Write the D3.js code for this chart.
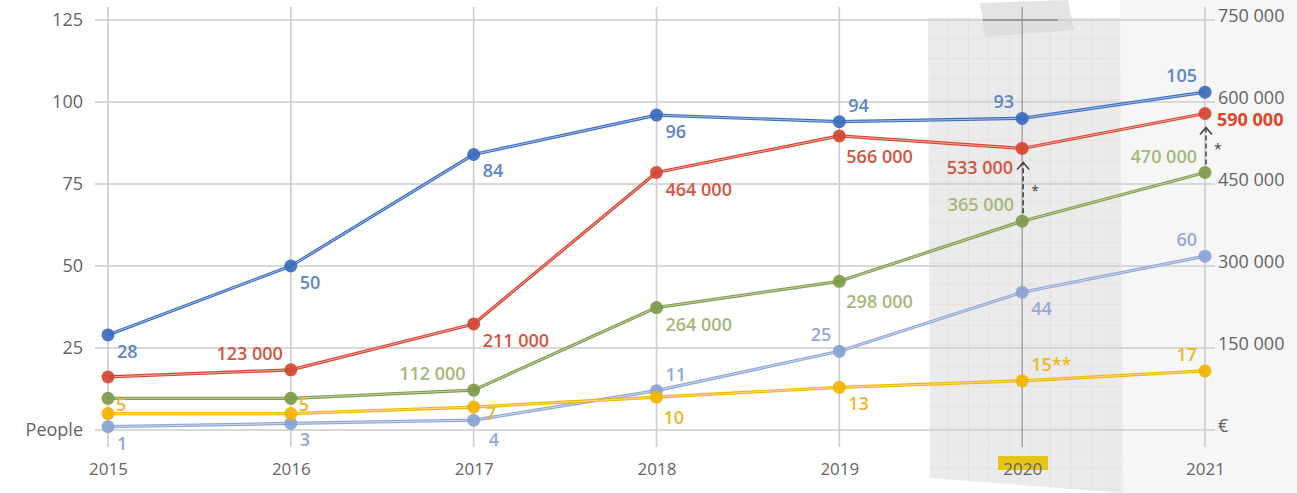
<!DOCTYPE html>
<html>
<head>
<meta charset="utf-8">
<script src="https://cdn.jsdelivr.net/npm/d3@7"></script>
<style>
  html, body { margin: 0; padding: 0; background: #fff; }
  svg { display: block; font-family: "Open Sans", "Noto Sans", sans-serif; }
</style>
</head>
<body>
<svg id="chart" width="1297" height="493"></svg>
<script>
const years = [2015, 2016, 2017, 2018, 2019, 2020, 2021];
const leftTicks = [0, 25, 50, 75, 100, 125];
const rightTicks = [0, 150000, 300000, 450000, 600000, 750000];

// people (left axis)
const peopleDark = [29, 50, 84, 96, 94, 95, 103];
const peopleDarkLabels = ["28", "50", "84", "96", "94", "93", "105"];
const peopleYellow = [5, 5, 7, 10, 13, 15, 18];
const peopleYellowLabels = ["5", "5", "7", "10", "13", "15**", "17"];
const peopleLight = [1, 2, 3, 12, 24, 42, 53];
const peopleLightLabels = ["1", "3", "4", "11", "25", "44", "60"];

// euros (right axis)
const euroRed = [97000, 110000, 194000, 471000, 538000, 515000, 579000];
const euroRedLabels = ["", "123 000", "211 000", "464 000", "566 000", "533 000", "590 000"];
const euroGreen = [58000, 58000, 73000, 224000, 272000, 382000, 471000];
const euroGreenLabels = ["", "", "112 000", "264 000", "298 000", "365 000", "470 000"];

const arrowYears = [2020, 2021];

// label placement codes (layout only)
const placeDark = ["br", "br", "br", "br", "ar", "al", "al"];
const placeYellow = ["ur", "ur", "r", "bb", "br", "ar", "al"];
const placeLight = ["br", "br", "br2", "ar", "al", "br", "al"];
const placeRed = ["", "al", "br", "br", "bb", "bl", "r"];
const placeGreen = ["", "", "al", "br", "bb", "al", "al"];

const offsets = {
  br: { anchor: "start", dx: 9, dy: 16 },
  br2: { anchor: "start", dx: 15, dy: 19 },
  bb: { anchor: "start", dx: 7, dy: 20 },
  ar: { anchor: "start", dx: 9, dy: -17 },
  al: { anchor: "end", dx: -8, dy: -17 },
  bl: { anchor: "end", dx: -9, dy: 19 },
  r: { anchor: "start", dx: 12, dy: 6 },
  ur: { anchor: "start", dx: 8, dy: -10 },
};

const svg = d3.select("#chart");
const W = 1297, H = 493;
const font = '"Open Sans", "Noto Sans", sans-serif';

const x = d3.scalePoint().domain(years).range([108, 1205]);
const yLeft = d3.scaleLinear().domain([0, 125]).range([430, 20]);
const yRight = d3.scaleLinear().domain([0, 750000]).range([430, 20]);

const gridLeft = 95, gridRight = 1215;

// background: slightly grey right side
svg.append("rect").attr("x", 1120).attr("y", 0).attr("width", W - 1120).attr("height", H).attr("fill", "#f6f6f6");

// graph paper pattern for the 2020 highlight
const defs = svg.append("defs");
const pat = defs.append("pattern").attr("id", "paper").attr("patternUnits", "userSpaceOnUse")
  .attr("width", 20.5).attr("height", 20.5).attr("x", 928).attr("y", 18);
pat.append("rect").attr("width", 20.5).attr("height", 20.5).attr("fill", "#ebebeb");
pat.append("path").attr("d", "M20.5 0V20.5M0 20.5H20.5").attr("stroke", "#e9d4cf").attr("stroke-width", 1).attr("fill", "none");

svg.append("polygon")
  .attr("points", "928,18 1120,18 1123,493 930,478")
  .attr("fill", "url(#paper)");

// tape at the top
svg.append("polygon")
  .attr("points", "980,3 1068,0 1074,30 985,37")
  .attr("fill", "#d9d9d9").attr("opacity", 0.7);

// gridlines
const grid = svg.append("g");
grid.selectAll("line.h").data(leftTicks).join("line")
  .attr("x1", gridLeft).attr("x2", gridRight)
  .attr("y1", (d) => yLeft(d)).attr("y2", (d) => yLeft(d))
  .attr("stroke", "#cdcdcd").attr("stroke-width", 1.6);
grid.selectAll("line.v").data(years).join("line")
  .attr("x1", (d) => x(d)).attr("x2", (d) => x(d))
  .attr("y1", 7).attr("y2", 447)
  .attr("stroke", (d) => (d === 2020 ? "#9a9a9a" : "#cdcdcd")).attr("stroke-width", (d) => (d === 2020 ? 1.3 : 1.6));
grid.append("line").attr("x1", 983).attr("x2", 1058).attr("y1", yLeft(125)).attr("y2", yLeft(125))
  .attr("stroke", "#888").attr("stroke-width", 1.6);

// yellow marker behind 2020
svg.append("rect").attr("x", 998).attr("y", 456).attr("width", 50).attr("height", 14).attr("fill", "#e6c519");

// axes
const leftAxis = svg.append("g").attr("transform", "translate(83,0)")
  .call(d3.axisLeft(yLeft).tickValues(leftTicks).tickSize(0).tickPadding(0)
    .tickFormat((d) => (d === 0 ? "People" : d)));
const rightAxis = svg.append("g").attr("transform", "translate(1218,0)")
  .call(d3.axisRight(yRight).tickValues(rightTicks).tickSize(0).tickPadding(0)
    .tickFormat((d) => (d === 0 ? "€" : d3.format(",")(d).replace(/,/g, " "))));
const bottomAxis = svg.append("g").attr("transform", "translate(0,469)")
  .call(d3.axisBottom(x).tickSize(0).tickPadding(0));

[leftAxis, rightAxis, bottomAxis].forEach((g) => {
  g.attr("font-family", font).attr("font-size", 18);
  g.select(".domain").remove();
  g.selectAll("text").attr("fill", "#646464");
});
rightAxis.selectAll("text").attr("dy", "0.1em");
bottomAxis.selectAll("text").attr("dy", "0.36em").attr("y", 0).attr("font-size", 17);

const series = [
  { values: peopleLight, labels: peopleLightLabels, place: placeLight, y: yLeft, line: "#8ea6d6", dot: "#8aa3d4", text: "#93a9d7" },
  { values: peopleYellow, labels: peopleYellowLabels, place: placeYellow, y: yLeft, line: "#f1b500", dot: "#f2b400", text: "#eab92a" },
  { values: euroGreen, labels: euroGreenLabels, place: placeGreen, y: yRight, line: "#7f9c48", dot: "#7e9b4a", text: "#a7b779" },
  { values: euroRed, labels: euroRedLabels, place: placeRed, y: yRight, line: "#d8432f", dot: "#d44532", text: "#d35542" },
  { values: peopleDark, labels: peopleDarkLabels, place: placeDark, y: yLeft, line: "#3c6ec0", dot: "#3a6bbd", text: "#5c86c6" },
];

const lineGroup = svg.append("g");
series.forEach((s) => {
  const pts = years.map((yr, i) => [x(yr), s.y(s.values[i])]);
  const line = d3.line();
  lineGroup.append("path").attr("d", line(pts)).attr("fill", "none")
    .attr("stroke", s.line).attr("stroke-width", 3.2).attr("stroke-linejoin", "round");
  lineGroup.append("path").attr("d", line(pts)).attr("fill", "none")
    .attr("stroke", "#fff").attr("stroke-width", 0.9).attr("opacity", 0.6);
});

// dashed arrows from green to red
const arrows = svg.append("g");
arrowYears.forEach((yr) => {
  const i = years.indexOf(yr);
  const cx = x(yr) + 1;
  const yStart = yRight(euroGreen[i]) - 8;
  const yEnd = yRight(euroRed[i]) + 14;
  arrows.append("line").attr("x1", cx).attr("x2", cx).attr("y1", yStart).attr("y2", yEnd + 1)
    .attr("stroke", "#333").attr("stroke-width", 1.4).attr("stroke-dasharray", "5,3");
  arrows.append("path")
    .attr("d", `M${cx - 6},${yEnd + 7}L${cx},${yEnd}L${cx + 6},${yEnd + 7}`)
    .attr("fill", "none").attr("stroke", "#444").attr("stroke-width", 1.6);
  arrows.append("text").attr("x", cx + 8).attr("y", (yStart + yEnd) / 2 + 8)
    .attr("fill", "#444").style("font-size", "14px").text("*");
});

// dots
const dotGroup = svg.append("g");
series.forEach((s) => {
  dotGroup.selectAll(null).data(years).join("circle")
    .attr("cx", (d) => x(d)).attr("cy", (d, i) => s.y(s.values[i]))
    .attr("r", 6.5).attr("fill", s.dot).attr("opacity", 0.92);
});

// value labels
const labelGroup = svg.append("g");
series.forEach((s) => {
  years.forEach((yr, i) => {
    if (!s.labels[i]) return;
    const o = offsets[s.place[i]];
    labelGroup.append("text")
      .attr("x", x(yr) + o.dx).attr("y", s.y(s.values[i]) + o.dy)
      .attr("text-anchor", o.anchor).attr("dominant-baseline", "central")
      .attr("fill", s.text).style("font-size", "18px").style("font-weight", 600)
      .text(s.labels[i]);
  });
});
// last red label stands out
labelGroup.selectAll("text").filter(function () { return this.textContent === "590 000"; })
  .attr("fill", "#e0452b").style("font-weight", 700);
</script>
</body>
</html>
